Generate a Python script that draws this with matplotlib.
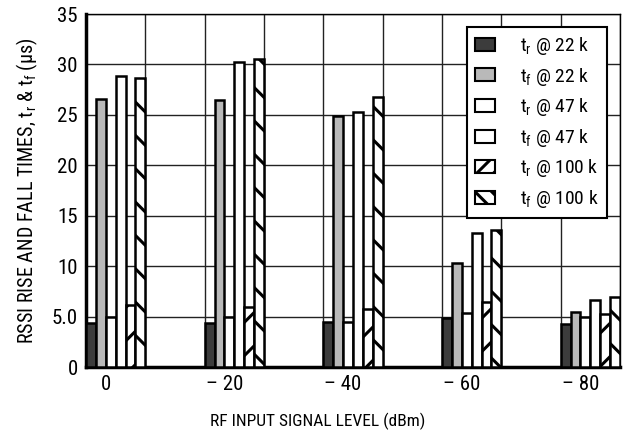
import matplotlib
matplotlib.use("Agg")
import matplotlib.pyplot as plt
from matplotlib.patches import Patch
import numpy as np
from matplotlib import font_manager

# ---- data ----
categories = ['0', '– 20', '– 40', '– 60', '– 80']
tr_22 = [4.4, 4.4, 4.5, 4.9, 4.3]
tf_22 = [26.6, 26.5, 24.9, 10.3, 5.5]
tr_47 = [5.0, 5.0, 4.5, 5.4, 5.0]
tf_47 = [28.9, 30.2, 25.3, 13.3, 6.6]
tr_100 = [6.1, 5.9, 5.8, 6.4, 5.3]
tf_100 = [28.7, 30.5, 26.8, 13.6, 6.9]
series_labels = [r'$\mathregular{t_r}$ @ 22 k', r'$\mathregular{t_f}$ @ 22 k',
                 r'$\mathregular{t_r}$ @ 47 k', r'$\mathregular{t_f}$ @ 47 k',
                 r'$\mathregular{t_r}$ @ 100 k', r'$\mathregular{t_f}$ @ 100 k']
y_ticks = [0, 5, 10, 15, 20, 25, 30, 35]
y_ticklabels = ['0', '5.0', '10', '15', '20', '25', '30', '35']

names = {f.name for f in font_manager.fontManager.ttflist}
fam = 'Liberation Sans'
for cand in ['Liberation Sans Narrow', 'Nimbus Sans Narrow', 'Arial Narrow',
             'Roboto Condensed', 'Archivo Narrow', 'Asap Condensed']:
    if cand in names:
        fam = cand
        break
plt.rcParams['font.family'] = [fam, 'DejaVu Sans']
plt.rcParams['mathtext.fontset'] = 'custom'
plt.rcParams['mathtext.rm'] = fam
plt.rcParams['mathtext.it'] = fam
plt.rcParams['hatch.linewidth'] = 2.2
plt.rcParams['hatch.color'] = 'black'

fig = plt.figure(figsize=(6.24, 4.36), dpi=100)
ax = fig.add_axes([86/624, 1-367/436, 534/624, 353/436])

series = [tr_22, tf_22, tr_47, tf_47, tr_100, tf_100]
faces = ['#3c3c3c', '#b9b9b9', 'white', 'white', 'white', 'white']
hatches = [None, None, None, None, '/', '\\']
n = len(series)
w = 1.0 / n
gx = np.arange(len(categories)) * 2.0
for j, (vals, fc, h) in enumerate(zip(series, faces, hatches)):
    ax.bar(gx + (j + 0.5) * w, vals, width=w, facecolor=fc, edgecolor='black',
           linewidth=1.8, hatch=h, zorder=3, label=series_labels[j])

ax.set_xlim(0, 9)
ax.set_ylim(0, 35)
ax.set_yticks(y_ticks)
ax.set_yticklabels(y_ticklabels, fontsize=15)
ax.set_xticks(gx + 0.33)
ax.set_xticklabels(categories, fontsize=15)
ax.set_xticks(np.arange(0, 10), minor=True)
ax.tick_params(axis='both', which='both', length=0, pad=6)
ax.grid(True, which='minor', axis='x', color='#222', linewidth=1.0, zorder=0)
ax.grid(True, which='major', axis='y', color='#222', linewidth=1.0, zorder=0)
ax.set_axisbelow(True)
for s in ['left', 'bottom']:
    ax.spines[s].set_linewidth(2.5)
for s in ['right', 'top']:
    ax.spines[s].set_linewidth(1.0)

ax.set_ylabel(r'RSSI RISE AND FALL TIMES, $\mathregular{t_r}$ & $\mathregular{t_f}$ (μs)',
              fontsize=14.5, labelpad=8)
ax.set_xlabel('RF INPUT SIGNAL LEVEL (dBm)', fontsize=12.5)
ax.xaxis.set_label_coords(0.433, -0.13)

leg_hatches = [None, None, None, None, '//', '\\\\']
handles = [Patch(facecolor=fc, edgecolor='black', linewidth=1.5, hatch=h)
           for fc, h in zip(faces, leg_hatches)]
leg = ax.legend(handles, series_labels, loc='upper right', bbox_to_anchor=(0.976, 0.963),
                borderaxespad=0, fontsize=14, frameon=True, fancybox=False,
                edgecolor='black', framealpha=1, handlelength=1.05, handleheight=0.65,
                handletextpad=1.3, labelspacing=0.44, borderpad=0.42)
leg.get_frame().set_linewidth(1.5)
leg.set_zorder(5)

fig.savefig('out.png', dpi=100)
